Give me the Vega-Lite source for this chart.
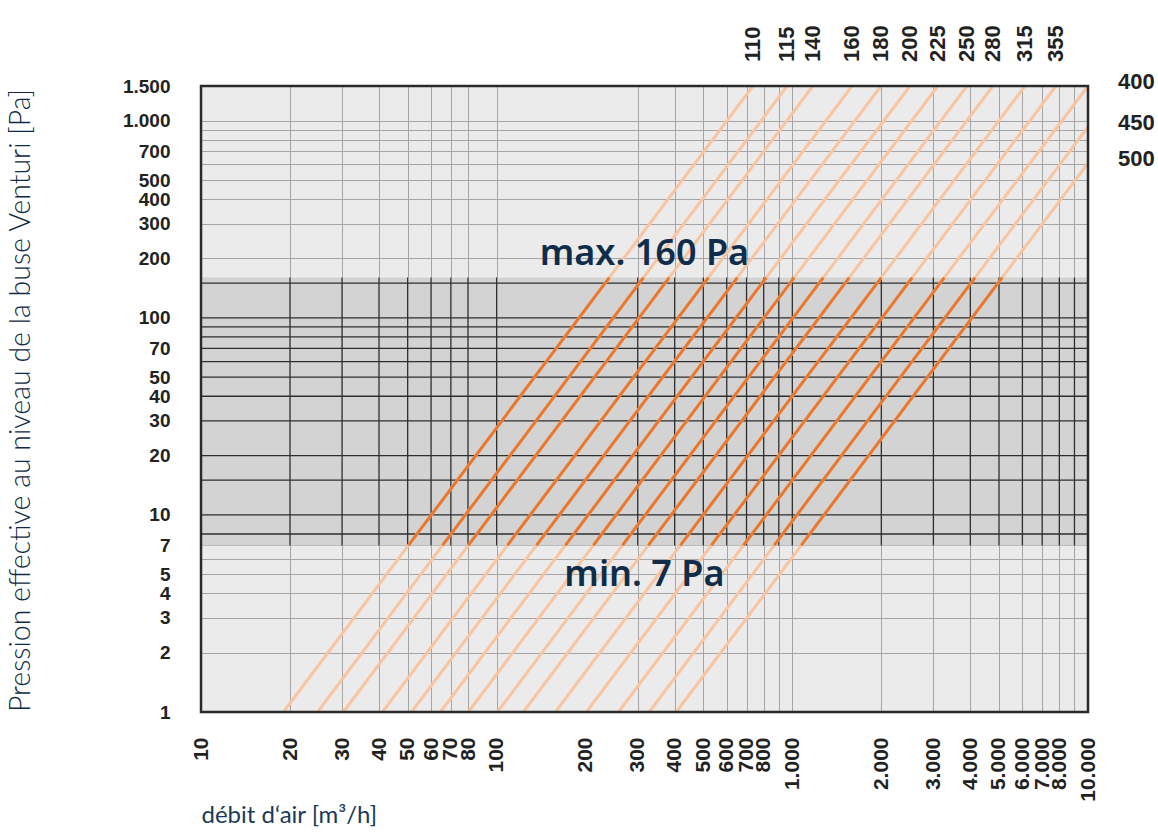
{
  "$schema": "https://vega.github.io/schema/vega-lite/v6.json",
  "width": 887,
  "height": 626,
  "autosize": {"type": "none"},
  "padding": {"left": 201, "top": 86, "right": 70, "bottom": 120},
  "background": "white",
  "config": {"view": {"fill": "#ebebeb", "stroke": null}, "font": "Liberation Sans"},
  "datasets": {
    "courbes": [
      {"diametre": 110, "debit": 19.0, "pression": 1}, {"diametre": 110, "debit": 50.3, "pression": 7}, {"diametre": 110, "debit": 240.3, "pression": 160}, {"diametre": 110, "debit": 735.9, "pression": 1500},
      {"diametre": 115, "debit": 24.8, "pression": 1}, {"diametre": 115, "debit": 65.6, "pression": 7}, {"diametre": 115, "debit": 313.7, "pression": 160}, {"diametre": 115, "debit": 960.5, "pression": 1500},
      {"diametre": 140, "debit": 30.3, "pression": 1}, {"diametre": 140, "debit": 80.2, "pression": 7}, {"diametre": 140, "debit": 383.3, "pression": 160}, {"diametre": 140, "debit": 1173.5, "pression": 1500},
      {"diametre": 160, "debit": 41.1, "pression": 1}, {"diametre": 160, "debit": 108.7, "pression": 7}, {"diametre": 160, "debit": 519.9, "pression": 160}, {"diametre": 160, "debit": 1591.8, "pression": 1500},
      {"diametre": 180, "debit": 51.5, "pression": 1}, {"diametre": 180, "debit": 136.3, "pression": 7}, {"diametre": 180, "debit": 651.4, "pression": 160}, {"diametre": 180, "debit": 1994.6, "pression": 1500},
      {"diametre": 200, "debit": 64.5, "pression": 1}, {"diametre": 200, "debit": 170.7, "pression": 7}, {"diametre": 200, "debit": 815.9, "pression": 160}, {"diametre": 200, "debit": 2498.1, "pression": 1500},
      {"diametre": 225, "debit": 80.2, "pression": 1}, {"diametre": 225, "debit": 212.2, "pression": 7}, {"diametre": 225, "debit": 1014.5, "pression": 160}, {"diametre": 225, "debit": 3106.1, "pression": 1500},
      {"diametre": 250, "debit": 100.6, "pression": 1}, {"diametre": 250, "debit": 266.2, "pression": 7}, {"diametre": 250, "debit": 1272.5, "pression": 160}, {"diametre": 250, "debit": 3896.2, "pression": 1500},
      {"diametre": 280, "debit": 123.1, "pression": 1}, {"diametre": 280, "debit": 325.7, "pression": 7}, {"diametre": 280, "debit": 1557.1, "pression": 160}, {"diametre": 280, "debit": 4767.7, "pression": 1500},
      {"diametre": 315, "debit": 158.0, "pression": 1}, {"diametre": 315, "debit": 418.0, "pression": 7}, {"diametre": 315, "debit": 1998.5, "pression": 160}, {"diametre": 315, "debit": 6119.3, "pression": 1500},
      {"diametre": 355, "debit": 201.1, "pression": 1}, {"diametre": 355, "debit": 532.1, "pression": 7}, {"diametre": 355, "debit": 2543.7, "pression": 160}, {"diametre": 355, "debit": 7788.6, "pression": 1500},
      {"diametre": 400, "debit": 258.2, "pression": 1}, {"diametre": 400, "debit": 683.1, "pression": 7}, {"diametre": 400, "debit": 3266.0, "pression": 160}, {"diametre": 400, "debit": 10000, "pression": 1500},
      {"diametre": 450, "debit": 328.0, "pression": 1}, {"diametre": 450, "debit": 867.8, "pression": 7}, {"diametre": 450, "debit": 4148.9, "pression": 160}, {"diametre": 450, "debit": 10000, "pression": 929.5},
      {"diametre": 500, "debit": 405.0, "pression": 1}, {"diametre": 500, "debit": 1071.5, "pression": 7}, {"diametre": 500, "debit": 5122.8, "pression": 160}, {"diametre": 500, "debit": 10000, "pression": 609.7}
    ],
    "plage": [{"qmin": 10, "qmax": 10000, "pmin": 7, "pmax": 160}],
    "cadre": [{"qmin": 10, "qmax": 10000, "pmin": 1, "pmax": 1500}],
    "grille_h": [{"pression": 8}, {"pression": 10}, {"pression": 15}, {"pression": 20}, {"pression": 30}, {"pression": 40}, {"pression": 50}, {"pression": 60}, {"pression": 70}, {"pression": 80}, {"pression": 90}, {"pression": 100}, {"pression": 150}],
    "grille_v": [{"debit": 20}, {"debit": 30}, {"debit": 40}, {"debit": 50}, {"debit": 60}, {"debit": 70}, {"debit": 80}, {"debit": 100}, {"debit": 300}, {"debit": 400}, {"debit": 500}, {"debit": 600}, {"debit": 700}, {"debit": 800}, {"debit": 900}, {"debit": 1000}, {"debit": 2000}, {"debit": 3000}, {"debit": 4000}, {"debit": 5000}, {"debit": 6000}, {"debit": 7000}, {"debit": 8000}, {"debit": 9000}],
    "annotations": [{"texte": "max. 160 Pa", "debit": 316, "pression": 186}, {"texte": "min. 7 Pa", "debit": 316, "pression": 4.36}]
  },
  "layer": [
    {
      "data": {"name": "plage"},
      "mark": {"type": "rect", "fill": "#d3d3d3"},
      "encoding": {
        "x": {
          "field": "qmin", "type": "quantitative",
          "scale": {"type": "log", "domain": [10, 10000], "nice": false},
          "axis": {
            "title": "débit d‘air [m³/h]",
            "values": [10, 20, 30, 40, 50, 60, 70, 80, 100, 200, 300, 400, 500, 600, 700, 800, 900, 1000, 2000, 3000, 4000, 5000, 6000, 7000, 8000, 9000, 10000],
            "labelExpr": "indexof([900, 9000], datum.value) >= 0 ? '' : replace(format(datum.value, ','), ',', '.')",
            "grid": true,
            "gridColor": "#a5a5a5",
            "gridWidth": 1,
            "gridOpacity": {"condition": {"test": "datum.value === 200", "value": 0}, "value": 1},
            "domain": false, "ticks": false, "tickSize": 0,
            "labelAngle": 270, "labelAlign": "right", "labelBaseline": "middle",
            "labelPadding": 25,
            "labelFont": "Liberation Sans", "labelFontWeight": "bold", "labelFontSize": 21, "labelColor": "#222222",
            "labelOverlap": false, "labelFlush": false, "labelBound": false,
            "titleFont": "Lato", "titleFontWeight": 400, "titleFontSize": 24, "titleColor": "#1b3a57",
            "titleX": 0, "titleY": 103, "titleAlign": "left", "titleBaseline": "middle", "titleAnchor": "start"
          }
        },
        "x2": {"field": "qmax"},
        "y": {
          "field": "pmin", "type": "quantitative",
          "scale": {"type": "log", "domain": [1, 1500], "nice": false},
          "axis": {
            "title": "Pression effective au niveau de la buse Venturi [Pa]",
            "values": [1, 2, 3, 4, 5, 6, 7, 10, 20, 30, 40, 50, 70, 100, 200, 300, 400, 500, 600, 700, 800, 900, 1000, 1500],
            "labelExpr": "indexof([6, 600, 800, 900], datum.value) >= 0 ? '' : replace(format(datum.value, ','), ',', '.')",
            "grid": true,
            "gridColor": "#a5a5a5",
            "gridWidth": 1,
            "domain": false, "ticks": false, "tickSize": 0,
            "labelPadding": 31,
            "labelFont": "Liberation Sans", "labelFontWeight": "bold", "labelFontSize": 19, "labelColor": "#222222",
            "labelOverlap": false, "labelFlush": false, "labelBound": false,
            "titleFont": "Lato", "titleFontWeight": 300, "titleFontSize": 28.5, "titleColor": "#0f2a44",
            "titleX": -181, "titleY": 314, "titleAngle": 270, "titleAlign": "center", "titleBaseline": "middle"
          }
        },
        "y2": {"field": "pmax"}
      }
    },
    {
      "data": {"name": "grille_h"},
      "mark": {"type": "rule", "color": "#2e2e2e", "strokeWidth": 1.3},
      "encoding": {
        "y": {"field": "pression", "type": "quantitative"}
      }
    },
    {
      "data": {"name": "grille_v"},
      "mark": {"type": "rule", "color": "#2e2e2e", "strokeWidth": 1.3},
      "encoding": {
        "x": {"field": "debit", "type": "quantitative"},
        "y": {"datum": 7, "type": "quantitative"},
        "y2": {"datum": 160}
      }
    },
    {
      "data": {"name": "courbes"},
      "mark": {"type": "line", "color": "#f8c5a0", "strokeWidth": 3},
      "encoding": {
        "x": {"field": "debit", "type": "quantitative"},
        "y": {"field": "pression", "type": "quantitative"},
        "detail": {"field": "diametre", "type": "nominal"}
      }
    },
    {
      "data": {"name": "courbes"},
      "transform": [{"filter": "datum.pression >= 7 && datum.pression <= 160"}],
      "mark": {"type": "line", "color": "#e9772d", "strokeWidth": 3},
      "encoding": {
        "x": {"field": "debit", "type": "quantitative"},
        "y": {"field": "pression", "type": "quantitative"},
        "detail": {"field": "diametre", "type": "nominal"}
      }
    },
    {
      "data": {"name": "cadre"},
      "mark": {"type": "rect", "fill": "transparent", "stroke": "#2a2a2a", "strokeWidth": 2.5},
      "encoding": {
        "x": {"field": "qmin", "type": "quantitative"},
        "x2": {"field": "qmax"},
        "y": {"field": "pmin", "type": "quantitative"},
        "y2": {"field": "pmax"}
      }
    },
    {
      "data": {"name": "courbes"},
      "transform": [{"filter": "datum.pression >= 1500 && datum.debit < 10000"}],
      "mark": {"type": "text", "angle": 270, "align": "left", "baseline": "middle", "dx": 24, "font": "Liberation Sans", "fontWeight": "bold", "fontSize": 22, "color": "#222222"},
      "encoding": {
        "x": {"field": "debit", "type": "quantitative"},
        "y": {"field": "pression", "type": "quantitative"},
        "text": {"field": "diametre", "type": "nominal"}
      }
    },
    {
      "data": {"name": "courbes"},
      "transform": [{"filter": "datum.debit >= 10000"}],
      "mark": {"type": "text", "align": "left", "baseline": "middle", "dx": 30, "dy": -4, "font": "Liberation Sans", "fontWeight": "bold", "fontSize": 22, "color": "#222222"},
      "encoding": {
        "x": {"field": "debit", "type": "quantitative"},
        "y": {"field": "pression", "type": "quantitative"},
        "text": {"field": "diametre", "type": "nominal"}
      }
    },
    {
      "data": {"name": "annotations"},
      "mark": {"type": "text", "align": "center", "baseline": "alphabetic", "font": "Noto Sans", "fontWeight": 600, "fontSize": 36, "color": "#0f2d4a"},
      "encoding": {
        "x": {"field": "debit", "type": "quantitative"},
        "y": {"field": "pression", "type": "quantitative"},
        "text": {"field": "texte", "type": "nominal"}
      }
    }
  ]
}
